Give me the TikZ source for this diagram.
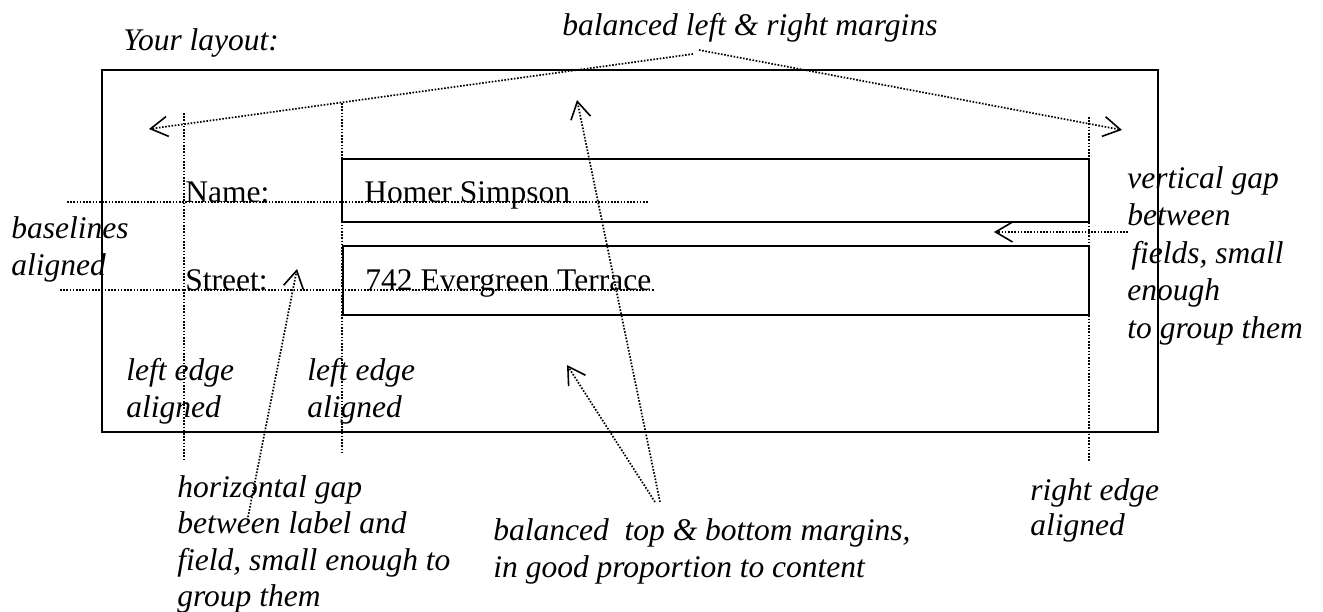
\documentclass[tikz,border=0pt]{standalone}
\usepackage{fontspec}
\setmainfont{Liberation Serif}
\usetikzlibrary{arrows.meta}
\begin{document}
\begin{tikzpicture}[x=0.5pt,y=-0.5pt,
  txt/.style={anchor=base west, inner sep=0pt, font=\fontsize{15.75}{18}\selectfont},
  note/.style={anchor=base west, inner sep=0pt, font=\fontsize{15.75}{18}\selectfont\itshape},
  guide/.style={line width=0.85pt, dash pattern=on 0.8pt off 0.8pt},
  pointer/.style={guide, -{Straight Barb[length=8.5pt,width=10pt,line width=0.8pt]}},
  frame/.style={draw, line width=1pt}]
\path[use as bounding box] (0,0) rectangle (1323,611);

% outer window and fields
\draw[frame] (102,70) rectangle (1158,432);
\draw[frame] (342,159) rectangle (1089,222);
\draw[frame] (343,246) rectangle (1089,315);

% texts
\node[note] (yl) at (123,50) {Your layout:};
\node[note] (lrm) at (562,35) {balanced left \& right margins};
\node[txt] (name) at (185,202) {Name:};
\node[txt] (street) at (185,290) {Street:};
\node[txt] (homer) at (364,202) {Homer Simpson};
\node[txt] (addr) at (365,290) {742 Evergreen Terrace};
\node[note] (bl1) at (11,238) {baselines};
\node[note] (bl2) at (11,275) {aligned};
\node[note] (vg1) at (1127,188) {vertical gap};
\node[note] (vg2) at (1127,225.5) {between};
\node[note] (vg3) at (1131,263) {fields, small};
\node[note] (vg4) at (1127,300.5) {enough};
\node[note] (vg5) at (1127,338) {to group them};
\node[note] (le1) at (126,380) {left edge};
\node[note] (le2) at (126,417) {aligned};
\node[note] (le3) at (307,380) {left edge};
\node[note] (le4) at (307,417) {aligned};
\node[note] (hg1) at (177,497) {horizontal gap};
\node[note] (hg2) at (177,533.5) {between label and};
\node[note] (hg3) at (177,570) {field, small enough to};
\node[note] (hg4) at (177,606.5) {group them};
\node[note] (tb1) at (493,540) {balanced\ \ top \& bottom margins,};
\node[note] (tb2) at (493,577) {in good proportion to content};
\node[note] (re1) at (1030,500) {right edge};
\node[note] (re2) at (1030,535) {aligned};

% guide lines
\coordinate (v1t) at (184,113); \coordinate (v1b) at (184,460);
\coordinate (v2t) at (342,103); \coordinate (v2b) at (342,453);
\coordinate (v3t) at (1089,117); \coordinate (v3b) at (1089,462);
\draw[guide] (v1t) -- (v1b);
\draw[guide] (v2t) -- (v2b);
\draw[guide] (v3t) -- (v3b);
\coordinate (b1l) at (67,202); \coordinate (b1r) at (648,202);
\coordinate (b2l) at (60,290); \coordinate (b2r) at (654,290);
\draw[guide] (b1l) -- (b1r);
\draw[guide] (b2l) -- (b2r);

% pointers
\coordinate (apexL) at (693,54);
\coordinate (apexR) at (699,50);
\coordinate (leftM) at (149,129);
\coordinate (rightM) at (1122,130);
\draw[pointer] (apexL) -- (leftM);
\draw[pointer] (apexR) -- (rightM);

\coordinate (tbA) at (660,502);
\coordinate (tbB) at (655,502);
\coordinate (topM) at (577,100);
\coordinate (botM) at (567,365);
\draw[pointer] (tbA) -- (topM);
\draw[pointer] (tbB) -- (botM);

\coordinate (vgS) at (1128,232);
\coordinate (vgT) at (994,232);
\draw[pointer] (vgS) -- (vgT);

\coordinate (hgS) at (248,517);
\coordinate (hgT) at (297,269);
\draw[pointer] (hgS) -- (hgT);
\end{tikzpicture}
\end{document}
